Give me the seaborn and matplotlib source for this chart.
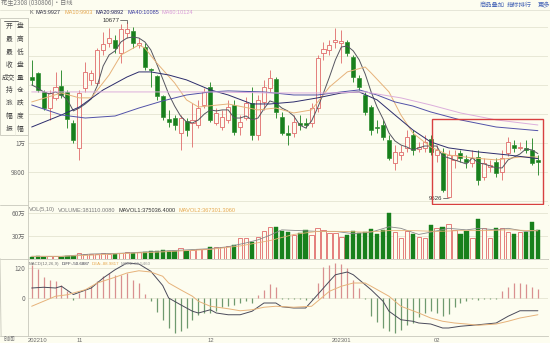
import numpy as np
import pandas as pd
import matplotlib
matplotlib.use("Agg")
import matplotlib.pyplot as plt
import seaborn as sns
from matplotlib.patches import Rectangle
from matplotlib.lines import Line2D

sns.set_theme(style="white")
plt.rcParams['font.family'] = ['Noto Sans CJK SC', 'DejaVu Sans']

# ---------------- data ----------------
opens = [10455, 10483, 10352, 10241, 10311, 10393, 10352, 10138, 9966, 10380,
         10435, 10414, 10642, 10690, 10711, 10621, 10759, 10773, 10676, 10662,
         10511, 10462, 10324, 10166, 10172, 10069, 10152, 10138, 10124, 10262,
         10386, 10138, 10110, 10159, 10262, 10110, 10172, 10276, 10055, 10283,
         10380, 10442, 10179, 10069, 10069, 10138, 10138, 10138, 10241, 10621,
         10642, 10697, 10690, 10697, 10593, 10449, 10331, 10248, 10110, 10124,
         10021, 9862, 9917, 9966, 10055, 9959, 9966, 10028, 9917, 9931,
         9627, 9883, 9931, 9890, 9862, 9903, 9765, 9834, 9869, 9800,
         9931, 9986, 9966, 9966, 9952, 9883]
highs = [10573, 10490, 10366, 10366, 10490, 10504, 10366, 10159, 10366, 10559,
         10504, 10655, 10766, 10793, 10745, 10821, 10835, 10800, 10724, 10690,
         10518, 10469, 10331, 10228, 10193, 10193, 10172, 10276, 10297, 10380,
         10421, 10241, 10228, 10297, 10297, 10193, 10317, 10386, 10331, 10435,
         10504, 10455, 10214, 10124, 10193, 10193, 10172, 10276, 10607, 10697,
         10711, 10793, 10780, 10711, 10607, 10469, 10352, 10262, 10159, 10159,
         10055, 9986, 9986, 10090, 10090, 10007, 10055, 10055, 9986, 9966,
         9952, 9952, 9952, 9917, 9952, 9952, 9897, 9883, 9897, 9952,
         10041, 10021, 10007, 10021, 10035, 9917]
lows = [10400, 10352, 10228, 10159, 10297, 10311, 10103, 10000, 9883, 10352,
        10400, 10400, 10607, 10662, 10621, 10552, 10724, 10655, 10655, 10504,
        10386, 10297, 10159, 10110, 10090, 9952, 10048, 9972, 10103, 10241,
        10145, 10124, 10090, 10138, 10055, 10055, 10159, 10021, 10021, 10228,
        10352, 10172, 10055, 9986, 10041, 10090, 10103, 10110, 10214, 10573,
        10607, 10655, 10552, 10600, 10421, 10366, 10193, 10055, 10069, 10021,
        9883, 9814, 9883, 9938, 9917, 9938, 9938, 9917, 9869, 9662,
        9620, 9828, 9869, 9828, 9834, 9710, 9745, 9800, 9765, 9745,
        9910, 9938, 9952, 9931, 9848, 9779]
closes = [10435, 10366, 10241, 10345, 10386, 10331, 10166, 10021, 10345, 10490,
          10483, 10642, 10683, 10724, 10655, 10786, 10786, 10690, 10690, 10524,
          10504, 10324, 10179, 10145, 10124, 10172, 10090, 10159, 10241, 10352,
          10159, 10207, 10179, 10248, 10076, 10145, 10276, 10055, 10297, 10386,
          10449, 10214, 10069, 10055, 10145, 10124, 10124, 10241, 10586, 10649,
          10676, 10711, 10704, 10621, 10455, 10386, 10214, 10090, 10103, 10041,
          9897, 9938, 9938, 10041, 9952, 9972, 10007, 9938, 9952, 9676,
          9917, 9917, 9897, 9869, 9897, 9745, 9862, 9848, 9793, 9897,
          10007, 9966, 9972, 9952, 9862, 9869]
volumes = [3.0, 3.5, 3.0, 4.0, 3.5, 3.0, 3.5, 4.0, 7.5, 7.0,
           6.5, 7.0, 7.5, 7.0, 7.0, 8.0, 8.5, 8.0, 9.0, 9.5,
           10.0, 11.0, 11.5, 11.0, 10.5, 14.0, 11.0, 12.0, 12.5, 13.5,
           16.0, 15.0, 16.0, 17.5, 18.0, 28.0, 27.0, 22.5, 29.0, 36.5,
           42.0, 42.0, 36.5, 35.0, 31.0, 34.0, 38.0, 31.0, 40.0, 38.0,
           34.0, 34.0, 29.0, 31.0, 36.5, 34.0, 35.0, 39.0, 32.5, 38.0,
           60.0, 35.0, 27.5, 36.5, 32.5, 29.0, 27.5, 44.0, 40.0, 42.0,
           45.5, 38.0, 32.5, 36.5, 27.5, 52.0, 40.0, 27.5, 40.0, 40.0,
           35.0, 32.5, 35.0, 35.0, 48.0, 38.1]
macd_hist = [133, 117, 83, 73, 67, 51, 27, -8, 20, 33,
             47, 67, 87, 100, 93, 93, 100, 73, 60, 16,
             -11, -56, -87, -120, -140, -133, -120, -87, -67, -60,
             -60, -51, -37, -33, -29, -20, -11, -20, 13, 33,
             56, 43, -5, -5, -5, -5, -6, -5, 60, 123,
             133, 140, 136, 120, 73, 40, -3, -73, -96, -120,
             -131, -140, -127, -107, -100, -77, -60, -53, -60, -73,
             -64, -37, -20, -11, -5, -8, -3, -3, -5, 27,
             43, 60, 60, 56, 43, 37]

ma5_vals = [10400, 10380, 10352, 10338, 10352, 10331, 10297, 10221, 10241, 10269,
            10304, 10393, 10531, 10607, 10635, 10697, 10724, 10731, 10724, 10697,
            10642, 10545, 10442, 10338, 10255, 10186, 10145, 10138, 10159, 10200,
            10228, 10221, 10228, 10228, 10172, 10172, 10186, 10159, 10172, 10235,
            10290, 10276, 10241, 10221, 10186, 10124, 10103, 10152, 10241, 10345,
            10455, 10573, 10662, 10669, 10635, 10573, 10476, 10352, 10248, 10166,
            10069, 10014, 9986, 9972, 9952, 9966, 9979, 9979, 9979, 9910,
            9897, 9883, 9869, 9855, 9897, 9862, 9855, 9841, 9828, 9828,
            9883, 9903, 9924, 9959, 9952, 9927]
ma10_idx = [0, 5, 8, 10, 13, 15, 18, 19, 21, 24, 26, 28, 33, 38, 41, 44, 47, 50, 53, 56,
            57, 60, 62, 64, 67, 70, 74, 78, 82, 85]
ma10_vals = [10283, 10345, 10311, 10311, 10469, 10607, 10676, 10655, 10552, 10414,
             10297, 10248, 10269, 10228, 10241, 10207, 10228, 10386, 10490, 10524,
             10483, 10352, 10193, 10069, 9972, 9917, 9897, 9883, 9903, 9903]
ma20_idx = [0, 5, 8, 12, 16, 18, 20, 23, 26, 30, 33, 37, 40, 44, 48, 52, 55, 58, 61, 64,
            67, 70, 75, 80, 85]
ma20_vals = [10110, 10193, 10248, 10366, 10455, 10490, 10490, 10469, 10435, 10366,
             10331, 10269, 10269, 10283, 10311, 10345, 10352, 10297, 10193, 10090,
             10007, 9966, 9938, 9917, 9892]
ma40_idx = [0, 5, 9, 14, 18, 22, 26, 30, 33, 39, 44, 48, 52, 55, 58, 61, 64, 67, 72, 78, 85]
ma40_vals = [10262, 10193, 10172, 10186, 10241, 10290, 10331, 10352, 10359, 10352,
             10331, 10331, 10352, 10366, 10331, 10283, 10255, 10214, 10159, 10110, 10085]
ma60_idx = [0, 10, 20, 30, 40, 50, 56, 59, 62, 67, 72, 78, 85]
ma60_vals = [10352, 10352, 10352, 10352, 10345, 10345, 10352, 10331, 10311, 10262,
             10207, 10159, 10124]

diff_idx = [0, 2, 4, 5, 7, 10, 12, 14, 16, 18, 20, 22, 23, 25, 27, 28, 30, 31, 33, 35,
            37, 39, 41, 42, 44, 46, 48, 50, 51, 53, 54, 55, 57, 59, 60, 62, 64, 65, 67, 69,
            70, 72, 74, 75, 78, 80, 82, 85]
diff_vals = [40, 43, 40, 47, 14, 40, 80, 113, 140, 136, 107, 50, 0, -27, -53, -60, -47, -60, -67, -67,
             -53, -20, -20, -35, -40, -40, 13, 67, 93, 104, 93, 73, 33, -13, -53, -87, -93, -100, -104, -120,
             -120, -113, -109, -107, -100, -73, -51, -51]
dea_idx = [0, 2, 4, 6, 7, 9, 11, 14, 16, 18, 20, 22, 23, 25, 27, 28, 30, 33, 35, 37,
           39, 41, 44, 47, 48, 50, 52, 54, 56, 57, 60, 62, 65, 67, 69, 71, 73, 75, 78, 80,
           82, 85]
dea_vals = [-33, -13, 7, 13, 20, 33, 60, 83, 100, 109, 104, 87, 60, 33, 7, -13, -33, -43, -51, -47,
            -37, -33, -37, -33, -13, 27, 47, 60, 60, 47, 7, -33, -60, -80, -93, -100, -104, -109, -104, -93,
            -80, -67]
mavol1_idx = [0, 5, 10, 15, 20, 25, 30, 33, 36, 38, 40, 42, 45, 48, 51, 54, 57, 60, 62, 65,
              67, 70, 73, 75, 78, 80, 83, 85]
mavol1_vals = [3.5, 3.4, 6.5, 7.5, 9.5, 11.5, 13.5, 16, 21, 25, 31, 38, 37, 36, 36, 33, 35, 42, 40, 32,
               35, 40, 38, 40, 38, 40, 36, 37.5]
mavol2_idx = [0, 5, 10, 15, 20, 25, 30, 35, 40, 44, 48, 52, 56, 60, 64, 68, 72, 76, 80, 85]
mavol2_vals = [3.5, 3.5, 5, 7, 8.5, 10.5, 12.5, 17, 24, 32, 36, 36, 35, 37, 37, 36, 37, 37, 38, 36.7]

date_pos = [8, 30, 52, 68]
date_labels = ["11", "12", "202301", "02"]
price_ticks = [9600, 9800, 10000, 10200, 10400, 10600, 10800]
price_tick_labels = ["", "9800", "1万", "", "", "", ""]
vol_ticks = [30, 60]
vol_tick_labels = ["30万", "60万"]
macd_ticks = [0, 120]
macd_tick_labels = ["0", "120"]
buttons = [("开", "盘"), ("最", "高"), ("最", "低"), ("收", "盘"), ("成交", "量"),
           ("持", "仓"), ("涨", "跌"), ("幅", "度"), ("振", "幅")]

# ---------------- styling ----------------
BG = "#fdfdf0"
GRID = "#e4e4d2"
SPINE = "#c8c8bc"
UP = "#e06a6a"
DOWN = "#18801c"
TXT = "#6a6a6a"
LAT = ["Liberation Sans", "DejaVu Sans"]

df = pd.DataFrame({"o": opens, "h": highs, "l": lows, "c": closes, "v": volumes,
                   "m": macd_hist})
df["i"] = np.arange(len(df))
df["up"] = df["c"] > df["o"]

fig = plt.figure(figsize=(5.5, 3.43), dpi=100)
fig.patch.set_facecolor(BG)
renderer = fig.canvas.get_renderer()


def fx(px):
    return px / 550.0


def fy(py):
    return 1 - py / 343.0


def seq_text(items, x0, y, size, gap=3.0):
    x = x0
    for t, c in items:
        tt = fig.text(fx(x), fy(y), t, fontsize=size, color=c, va="center", ha="left",
                      family=LAT)
        w = tt.get_window_extent(renderer=renderer).width
        x += w + gap


ax_p = fig.add_axes([fx(28), fy(205), fx(520), 187 / 343])
ax_v = fig.add_axes([fx(28), fy(259), fx(520), 54 / 343])
ax_m = fig.add_axes([fx(28), fy(336), fx(520), 77 / 343])

XL = (-0.62, 86.7)
for ax in (ax_p, ax_v, ax_m):
    ax.set_facecolor(BG)
    ax.set_xlim(*XL)
    for s in ax.spines.values():
        s.set_color(SPINE)
        s.set_linewidth(0.6)
    ax.spines["right"].set_visible(False)
    ax.tick_params(axis="both", length=0, labelsize=4.6, colors=TXT, pad=2)

# ---------- price panel ----------
ax_p.set_ylim(9572, 10862)
ax_p.set_yticks(price_ticks)
ax_p.set_yticklabels(price_tick_labels)
ax_p.set_xticks([])
ax_p.grid(axis="y", color=GRID, linewidth=0.6)
ax_p.set_axisbelow(True)
ax_p.spines["top"].set_visible(False)

W = 0.68
for r in df.itertuples():
    lo_b, hi_b = min(r.o, r.c), max(r.o, r.c)
    hgt = max(hi_b - lo_b, 2.5)
    if r.up:
        ax_p.bar(r.i, hgt, bottom=lo_b, width=W, facecolor=BG, edgecolor=UP,
                 linewidth=0.6, zorder=3)
        col = UP
    else:
        ax_p.bar(r.i, hgt, bottom=lo_b, width=W, facecolor=DOWN, edgecolor=DOWN,
                 linewidth=0.4, zorder=3)
        col = DOWN
    ax_p.vlines(r.i, r.l, lo_b, color=col, linewidth=0.6, zorder=2)
    ax_p.vlines(r.i, lo_b + hgt, r.h, color=col, linewidth=0.6, zorder=2)

ma_specs = [
    (list(range(len(ma5_vals))), ma5_vals, "#555560"),
    (ma10_idx, ma10_vals, "#e6b27a"),
    (ma20_idx, ma20_vals, "#2c2c6c"),
    (ma40_idx, ma40_vals, "#5252a8"),
    (ma60_idx, ma60_vals, "#dcaedc"),
]
for xi, yv, colr in ma_specs:
    sns.lineplot(x=xi, y=yv, ax=ax_p, color=colr, linewidth=0.7, legend=False, zorder=4)
ax_p.set_xlabel("")
ax_p.set_ylabel("")

# high / low annotations
ih = int(np.argmax(highs))
ax_p.plot([ih - 1.1, ih, ih], [highs[ih] + 12, highs[ih] + 12, highs[ih] - 10],
          color="#444444", linewidth=0.5, zorder=5)
ax_p.text(ih - 1.3, highs[ih] + 12, "10677", ha="right", va="center", fontsize=4.4,
          color="#333333", family=LAT)
il = int(np.argmin(lows))
ax_p.plot([il - 0.9, il - 0.1], [lows[il], lows[il]], color="#444444", linewidth=0.5,
          zorder=5)
ax_p.text(il - 1.0, lows[il], "9526", ha="right", va="center", fontsize=4.4,
          color="#333333", family=LAT)

# highlight box around the last segment
seg_lo = min(lows[67:]) - 40
seg_hi = max(highs[67:]) + 110
ax_p.add_patch(Rectangle((67.2, seg_lo), 85.85 - 67.2, seg_hi - seg_lo, fill=False,
                         edgecolor="#d84040", linewidth=1.0, zorder=6))

seq_text([("K", "#555555"), ("MA5:9927", "#333344"), ("MA10:9903", "#e6a850"),
          ("MA20:9892", "#22225a"), ("MA40:10085", "#3a3aa0"),
          ("MA60:10124", "#d89ad8")], 29, 13, 4.0, gap=3.2)

# ---------- volume panel ----------
ax_v.set_ylim(0, 70.4)
ax_v.set_yticks(vol_ticks)
ax_v.set_yticklabels(vol_tick_labels)
ax_v.set_xticks([])
ax_v.grid(axis="y", color=GRID, linewidth=0.6)
ax_v.set_axisbelow(True)
ax_v.spines["top"].set_visible(False)
for r in df.itertuples():
    if r.up:
        ax_v.bar(r.i, r.v, width=0.72, facecolor=BG, edgecolor=UP, linewidth=0.6, zorder=3)
    else:
        ax_v.bar(r.i, r.v, width=0.72, facecolor=DOWN, edgecolor=DOWN, linewidth=0.3, zorder=3)
sns.lineplot(x=mavol1_idx, y=mavol1_vals, ax=ax_v, color="#8a8a8a", linewidth=0.6,
             legend=False, zorder=4)
sns.lineplot(x=mavol2_idx, y=mavol2_vals, ax=ax_v, color="#e6b27a", linewidth=0.6,
             legend=False, zorder=4)
ax_v.set_xlabel("")
ax_v.set_ylabel("")
seq_text([("VOL(5,10)", "#777777"), ("VOLUME:381110.0080", "#777777"),
          ("MAVOL1:375036.4000", "#333333"), ("MAVOL2:367301.3060", "#e6a850")],
         29, 210, 4.1, gap=3.0)

# ---------- MACD panel ----------
ax_m.set_ylim(-152, 156)
ax_m.set_yticks(macd_ticks)
ax_m.set_yticklabels(macd_tick_labels)
ax_m.grid(axis="y", color=GRID, linewidth=0.6)
ax_m.set_axisbelow(True)
pos = df[df["m"] >= 0]
neg = df[df["m"] < 0]
ax_m.vlines(pos["i"], 0, pos["m"], color="#d99090", linewidth=0.9, zorder=3)
ax_m.vlines(neg["i"], 0, neg["m"], color="#6f9a6f", linewidth=0.9, zorder=3)
sns.lineplot(x=diff_idx, y=diff_vals, ax=ax_m, color="#4a4a5a", linewidth=0.7,
             legend=False, zorder=4)
sns.lineplot(x=dea_idx, y=dea_vals, ax=ax_m, color="#e6b27a", linewidth=0.7,
             legend=False, zorder=4)
ax_m.set_xlabel("")
ax_m.set_ylabel("")
ax_m.set_xticks([XL[0]] + date_pos)
ax_m.set_xticklabels(["202210"] + date_labels, family=LAT)
ax_m.tick_params(axis="x", labelsize=4.2, pad=1.5)
ax_m.get_xticklabels()[0].set_ha("left")
seq_text([("MACD(12,26,9)", "#777777"), ("DIFF:-50.6887", "#333344"),
          ("DEA:-88.9817", "#e6a850"), ("MACD:36.5460", "#999999")],
         29, 264, 3.2, gap=2.0)

# ---------- header / left panel decoration ----------
fig.text(fx(1), fy(4), "花生2308 (030806)·日线", fontsize=4.5, color="#777777",
         va="center", ha="left")
for t, x in [("商品叠加", 480), ("指标排行", 507), ("更多", 538)]:
    fig.text(fx(x), fy(5), t, fontsize=4.5, color="#4a68b8", va="center", ha="left")

fig.add_artist(Line2D([0, 1], [fy(9.5), fy(9.5)], transform=fig.transFigure,
                      color="#e2e2d4", linewidth=0.6))
fig.add_artist(Rectangle((0, fy(135)), fx(27.5), fy(18) - fy(135),
                         transform=fig.transFigure, facecolor=BG, edgecolor="#c8c8bc",
                         linewidth=0.6, zorder=10))
row_h = (135 - 20) / 9.0
for k, (a, b) in enumerate(buttons):
    yc = 20 + row_h * (k + 0.5)
    fig.text(fx(9 if len(a) == 1 else 8.5), fy(yc), a, fontsize=4.8, color="#444444",
             va="center", ha="center", zorder=11)
    fig.text(fx(20), fy(yc), b, fontsize=4.8, color="#444444", va="center",
             ha="center", zorder=11)
fig.add_artist(Line2D([fx(14.5), fx(14.5)], [fy(20), fy(135)], transform=fig.transFigure,
                      color="#e4e4d8", linewidth=0.4, zorder=11))
fig.add_artist(Line2D([fx(4), fx(18)], [fy(21), fy(21)], transform=fig.transFigure,
                      color="#555555", linewidth=0.6, zorder=11))

for yy in (205, 258.5):
    fig.add_artist(Line2D([0, fx(28)], [fy(yy), fy(yy)], transform=fig.transFigure,
                          color="#c8c8bc", linewidth=0.6))
fig.add_artist(Line2D([0, 0.002], [fy(258.5), fy(336)], transform=fig.transFigure,
                      color="#c8c8bc", linewidth=0.6))
fig.add_artist(Line2D([0, fx(28)], [fy(336), fy(336)], transform=fig.transFigure,
                      color="#c8c8bc", linewidth=0.6))
fig.text(fx(4), fy(339.5), "时间", fontsize=4.2, color="#777777", va="center", ha="left")

fig.savefig("out.png", dpi=100, facecolor=BG)
